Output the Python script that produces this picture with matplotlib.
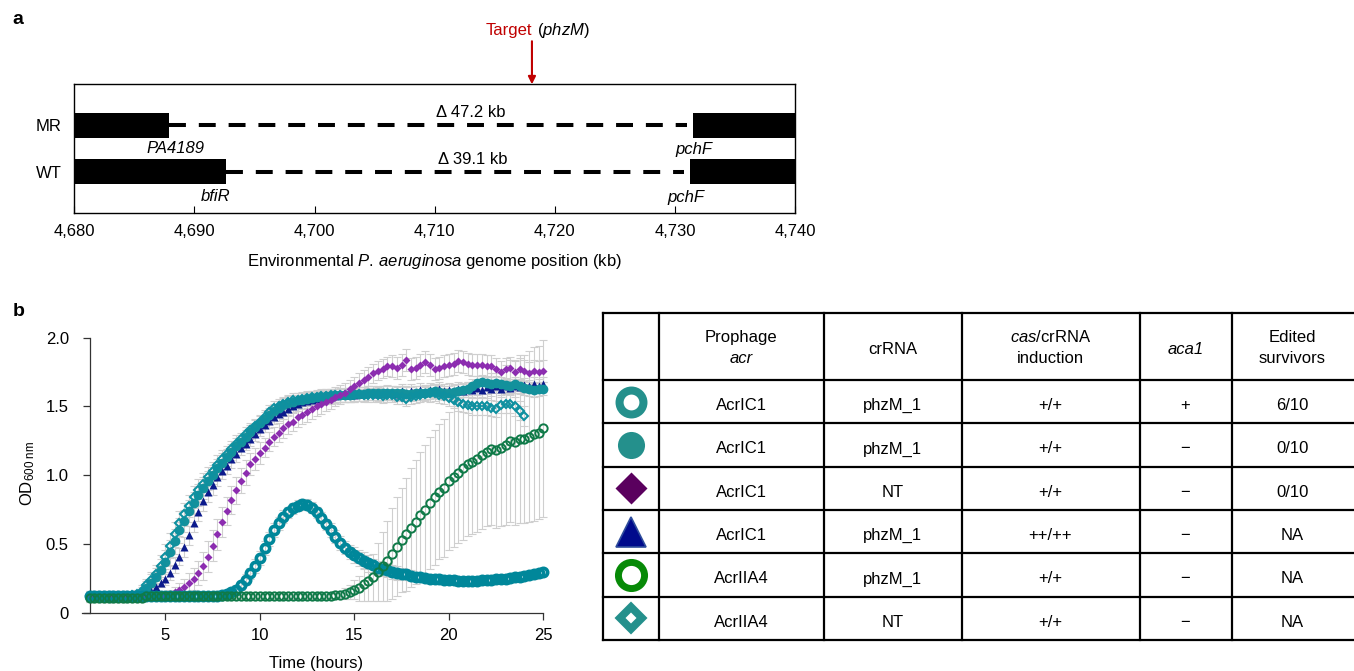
import numpy as np
import matplotlib
matplotlib.use("Agg")
import matplotlib.pyplot as plt

plt.rcParams['font.family'] = ['Liberation Sans', 'DejaVu Sans']
plt.rcParams['mathtext.fontset'] = 'custom'
plt.rcParams['mathtext.rm'] = 'Liberation Sans'
plt.rcParams['mathtext.it'] = 'Liberation Sans:italic'
plt.rcParams['mathtext.bf'] = 'Liberation Sans:bold'
plt.rcParams['font.size'] = 12

# ---------------- panel a: genome region ----------------
strains = ["MR", "WT"]
left_gene_end = [4687.9, 4692.65]       # kb
right_gene_start = [4731.5, 4731.25]    # kb
left_gene_names = ["PA4189", "bfiR"]
right_gene_names = ["pchF", "pchF"]
deletion_labels = ["Δ 47.2 kb", "Δ 39.1 kb"]
deletion_label_x = [4713.0, 4713.2]
target_kb = 4718.1
genome_ticks = [4680, 4690, 4700, 4710, 4720, 4730, 4740]

# ---------------- panel b: growth curves (OD600, 15 min reads) ----------------
time_h = np.arange(1, 25.01, 0.25)

od_ring = [0.12, 0.12, 0.12, 0.12, 0.12, 0.12, 0.12, 0.12,
           0.12, 0.12, 0.12, 0.12, 0.12, 0.12, 0.12, 0.12,
           0.12, 0.12, 0.12, 0.12, 0.12, 0.12, 0.12, 0.12,
           0.12, 0.12, 0.12, 0.12, 0.13, 0.14, 0.15, 0.17,
           0.20, 0.24, 0.29, 0.34, 0.40, 0.47, 0.54, 0.60,
           0.65, 0.70, 0.73, 0.76, 0.78, 0.79, 0.785, 0.765,
           0.73, 0.69, 0.645, 0.60, 0.555, 0.51, 0.475, 0.445,
           0.42, 0.40, 0.38, 0.36, 0.345, 0.33, 0.32, 0.31,
           0.30, 0.29, 0.285, 0.28, 0.27, 0.265, 0.26, 0.255,
           0.25, 0.25, 0.245, 0.24, 0.24, 0.24, 0.235, 0.235,
           0.235, 0.235, 0.235, 0.24, 0.24, 0.24, 0.245, 0.25,
           0.25, 0.255, 0.26, 0.265, 0.27, 0.275, 0.28, 0.29,
           0.30]
sd_ring = [0.04, 0.04, 0.04, 0.04, 0.04, 0.04, 0.04, 0.04,
           0.03, 0.03, 0.03, 0.03, 0.02, 0.02, 0.02, 0.02,
           0.02, 0.02, 0.02, 0.02, 0.02, 0.02, 0.02, 0.02,
           0.02, 0.02, 0.02, 0.02, 0.02, 0.02, 0.03, 0.03,
           0.03, 0.04, 0.04, 0.05, 0.05, 0.05, 0.05, 0.05,
           0.05, 0.05, 0.04, 0.04, 0.04, 0.04, 0.04, 0.04,
           0.04, 0.04, 0.04, 0.05, 0.05, 0.05, 0.05, 0.05,
           0.06, 0.06, 0.06, 0.06, 0.05, 0.05, 0.05, 0.05,
           0.05, 0.05, 0.04, 0.04, 0.04, 0.03, 0.03, 0.03,
           0.03, 0.03, 0.03, 0.03, 0.03, 0.03, 0.03, 0.03,
           0.03, 0.03, 0.03, 0.03, 0.03, 0.03, 0.03, 0.03,
           0.03, 0.03, 0.03, 0.03, 0.03, 0.03, 0.03, 0.03,
           0.03]

od_fill = [0.12, 0.12, 0.12, 0.12, 0.12, 0.12, 0.12, 0.12,
           0.12, 0.12, 0.13, 0.15, 0.18, 0.22, 0.26, 0.31,
           0.37, 0.44, 0.52, 0.60, 0.67, 0.74, 0.80, 0.86,
           0.91, 0.96, 1.005, 1.05, 1.09, 1.13, 1.17, 1.21,
           1.245, 1.28, 1.315, 1.35, 1.38, 1.41, 1.44, 1.47,
           1.49, 1.51, 1.525, 1.535, 1.545, 1.55, 1.555, 1.56,
           1.565, 1.57, 1.575, 1.575, 1.58, 1.58, 1.585, 1.585,
           1.59, 1.59, 1.59, 1.595, 1.595, 1.60, 1.60, 1.60,
           1.60, 1.595, 1.595, 1.59, 1.59, 1.595, 1.60, 1.60,
           1.605, 1.61, 1.605, 1.60, 1.60, 1.605, 1.61, 1.62,
           1.63, 1.65, 1.67, 1.68, 1.67, 1.665, 1.67, 1.66,
           1.655, 1.65, 1.66, 1.65, 1.635, 1.625, 1.62, 1.625,
           1.63]
sd_fill = [0.04, 0.04, 0.04, 0.04, 0.04, 0.04, 0.04, 0.04,
           0.03, 0.03, 0.03, 0.04, 0.05, 0.06, 0.07, 0.08,
           0.09, 0.09, 0.09, 0.09, 0.08, 0.08, 0.08, 0.08,
           0.08, 0.07, 0.07, 0.07, 0.07, 0.06, 0.06, 0.06,
           0.05, 0.05, 0.05, 0.05, 0.05, 0.05, 0.05, 0.05,
           0.05, 0.05, 0.05, 0.05, 0.05, 0.05, 0.05, 0.05,
           0.05, 0.05, 0.05, 0.05, 0.05, 0.05, 0.05, 0.05,
           0.05, 0.05, 0.05, 0.05, 0.05, 0.05, 0.05, 0.05,
           0.05, 0.05, 0.05, 0.05, 0.05, 0.05, 0.05, 0.05,
           0.05, 0.05, 0.05, 0.05, 0.05, 0.05, 0.05, 0.05,
           0.05, 0.05, 0.05, 0.05, 0.05, 0.05, 0.05, 0.05,
           0.05, 0.05, 0.05, 0.05, 0.05, 0.05, 0.05, 0.05,
           0.05]

od_nt = [0.12, 0.12, 0.12, 0.12, 0.12, 0.12, 0.12, 0.12,
         0.12, 0.12, 0.12, 0.12, 0.12, 0.12, 0.12, 0.12,
         0.13, 0.14, 0.15, 0.17, 0.19, 0.22, 0.25, 0.29,
         0.34, 0.41, 0.49, 0.57, 0.66, 0.74, 0.82, 0.89,
         0.96, 1.02, 1.08, 1.12, 1.16, 1.20, 1.245, 1.28,
         1.31, 1.34, 1.37, 1.39, 1.42, 1.44, 1.46, 1.48,
         1.50, 1.515, 1.535, 1.55, 1.57, 1.585, 1.60, 1.625,
         1.645, 1.67, 1.695, 1.715, 1.74, 1.76, 1.775, 1.79,
         1.79, 1.78, 1.80, 1.84, 1.77, 1.78, 1.80, 1.82,
         1.80, 1.77, 1.78, 1.79, 1.80, 1.81, 1.83, 1.82,
         1.81, 1.80, 1.80, 1.80, 1.79, 1.79, 1.77, 1.75,
         1.77, 1.78, 1.75, 1.77, 1.76, 1.74, 1.76, 1.75,
         1.76]
sd_nt = [0.03, 0.03, 0.03, 0.03, 0.03, 0.03, 0.03, 0.03,
         0.03, 0.03, 0.03, 0.03, 0.03, 0.03, 0.03, 0.03,
         0.03, 0.03, 0.04, 0.05, 0.06, 0.07, 0.08, 0.09,
         0.10, 0.11, 0.11, 0.11, 0.11, 0.10, 0.10, 0.10,
         0.09, 0.09, 0.08, 0.08, 0.08, 0.07, 0.07, 0.07,
         0.07, 0.07, 0.07, 0.07, 0.07, 0.07, 0.07, 0.07,
         0.07, 0.07, 0.07, 0.07, 0.07, 0.07, 0.07, 0.07,
         0.07, 0.07, 0.07, 0.07, 0.07, 0.07, 0.07, 0.07,
         0.08, 0.08, 0.08, 0.08, 0.08, 0.08, 0.08, 0.08,
         0.08, 0.08, 0.08, 0.08, 0.08, 0.08, 0.08, 0.08,
         0.08, 0.08, 0.08, 0.08, 0.08, 0.08, 0.08, 0.08,
         0.08, 0.08, 0.08, 0.08, 0.08, 0.08, 0.08, 0.08,
         0.08]

od_high = [0.12, 0.12, 0.12, 0.12, 0.12, 0.12, 0.12, 0.12,
           0.12, 0.12, 0.12, 0.12, 0.14, 0.16, 0.19, 0.22,
           0.25, 0.29, 0.35, 0.41, 0.48, 0.565, 0.655, 0.735,
           0.81, 0.875, 0.93, 0.985, 1.03, 1.07, 1.115, 1.155,
           1.195, 1.23, 1.265, 1.30, 1.335, 1.365, 1.395, 1.42,
           1.445, 1.46, 1.48, 1.50, 1.515, 1.53, 1.54, 1.55,
           1.555, 1.56, 1.565, 1.57, 1.575, 1.58, 1.58, 1.585,
           1.585, 1.59, 1.59, 1.595, 1.60, 1.59, 1.60, 1.605,
           1.60, 1.59, 1.61, 1.60, 1.615, 1.60, 1.62, 1.605,
           1.62, 1.61, 1.625, 1.61, 1.62, 1.61, 1.63, 1.615,
           1.63, 1.62, 1.635, 1.62, 1.64, 1.625, 1.645, 1.63,
           1.65, 1.635, 1.65, 1.64, 1.655, 1.645, 1.66, 1.65,
           1.665]
sd_high = [0.03, 0.03, 0.03, 0.03, 0.03, 0.03, 0.03, 0.03,
           0.03, 0.03, 0.03, 0.03, 0.03, 0.03, 0.03, 0.03,
           0.05, 0.05, 0.06, 0.06, 0.07, 0.07, 0.07, 0.07,
           0.07, 0.07, 0.07, 0.06, 0.06, 0.06, 0.06, 0.06,
           0.05, 0.05, 0.05, 0.05, 0.05, 0.05, 0.05, 0.05,
           0.05, 0.05, 0.05, 0.05, 0.05, 0.05, 0.05, 0.05,
           0.05, 0.05, 0.05, 0.05, 0.05, 0.05, 0.05, 0.05,
           0.05, 0.05, 0.05, 0.05, 0.05, 0.05, 0.05, 0.05,
           0.05, 0.05, 0.05, 0.05, 0.05, 0.05, 0.05, 0.05,
           0.05, 0.05, 0.05, 0.05, 0.05, 0.05, 0.05, 0.05,
           0.05, 0.05, 0.05, 0.05, 0.05, 0.05, 0.05, 0.05,
           0.05, 0.05, 0.05, 0.05, 0.05, 0.05, 0.05, 0.05,
           0.05]

od_iia4 = [0.11, 0.11, 0.11, 0.11, 0.11, 0.11, 0.11, 0.11,
           0.11, 0.11, 0.11, 0.11, 0.12, 0.12, 0.12, 0.12,
           0.12, 0.12, 0.12, 0.12, 0.12, 0.12, 0.12, 0.12,
           0.12, 0.12, 0.12, 0.12, 0.12, 0.12, 0.12, 0.12,
           0.12, 0.12, 0.12, 0.12, 0.12, 0.12, 0.12, 0.12,
           0.12, 0.12, 0.12, 0.12, 0.12, 0.12, 0.12, 0.12,
           0.12, 0.12, 0.12, 0.12, 0.13, 0.13, 0.14, 0.15,
           0.17, 0.18, 0.21, 0.23, 0.26, 0.30, 0.34, 0.38,
           0.43, 0.48, 0.53, 0.57, 0.62, 0.66, 0.71, 0.75,
           0.80, 0.84, 0.88, 0.91, 0.96, 0.99, 1.02, 1.05,
           1.08, 1.10, 1.12, 1.15, 1.17, 1.19, 1.18, 1.20,
           1.22, 1.25, 1.24, 1.26, 1.26, 1.28, 1.30, 1.31,
           1.34]
sd_iia4 = [0.02, 0.02, 0.02, 0.02, 0.02, 0.02, 0.02, 0.02,
           0.02, 0.02, 0.02, 0.02, 0.02, 0.02, 0.02, 0.02,
           0.02, 0.02, 0.02, 0.02, 0.02, 0.02, 0.02, 0.02,
           0.02, 0.02, 0.02, 0.02, 0.02, 0.02, 0.02, 0.02,
           0.02, 0.02, 0.02, 0.02, 0.02, 0.02, 0.02, 0.02,
           0.02, 0.02, 0.02, 0.02, 0.02, 0.02, 0.02, 0.02,
           0.02, 0.02, 0.02, 0.02, 0.02, 0.03, 0.04, 0.05,
           0.07, 0.09, 0.12, 0.14, 0.17, 0.21, 0.25, 0.29,
           0.33, 0.36, 0.38, 0.41, 0.43, 0.45, 0.46, 0.47,
           0.48, 0.49, 0.49, 0.50, 0.50, 0.51, 0.51, 0.52,
           0.52, 0.53, 0.53, 0.54, 0.54, 0.55, 0.56, 0.57,
           0.58, 0.59, 0.60, 0.61, 0.61, 0.62, 0.63, 0.63,
           0.64]

nan = np.nan
od_iia4_nt = [0.12, 0.12, 0.12, 0.12, 0.12, 0.12, 0.12, 0.12,
              0.12, 0.13, 0.14, 0.16, 0.20, 0.24, 0.28, 0.34,
              0.41, 0.49, 0.57, 0.65, 0.72, 0.78, 0.84, 0.89,
              0.94, 0.99, 1.03, 1.075, 1.115, 1.155, 1.19, 1.23,
              1.26, 1.30, 1.33, 1.36, 1.39, 1.425, 1.46, 1.49,
              1.505, 1.52, 1.535, 1.545, 1.55, 1.555, 1.56, 1.565,
              1.57, 1.575, 1.575, 1.58, 1.58, 1.585, 1.58, 1.585,
              1.58, 1.59, 1.58, 1.585, 1.58, 1.585, 1.575, 1.58,
              1.58, 1.57, 1.565, 1.555, 1.565, 1.575, 1.58, 1.59,
              1.595, 1.60, 1.585, 1.575, 1.56, 1.55, 1.53, 1.52,
              1.51, 1.50, 1.50, 1.50, 1.50, 1.49, 1.48, 1.51,
              1.52, 1.52, 1.50, 1.47, 1.43, nan, nan, nan,
              nan]
sd_iia4_nt = [0.04, 0.04, 0.04, 0.04, 0.04, 0.04, 0.04, 0.04,
              0.03, 0.03, 0.03, 0.04, 0.05, 0.06, 0.07, 0.08,
              0.09, 0.09, 0.09, 0.09, 0.08, 0.08, 0.08, 0.08,
              0.08, 0.07, 0.07, 0.07, 0.07, 0.06, 0.06, 0.06,
              0.05, 0.05, 0.05, 0.05, 0.05, 0.05, 0.05, 0.05,
              0.05, 0.05, 0.05, 0.05, 0.05, 0.05, 0.05, 0.05,
              0.05, 0.05, 0.05, 0.05, 0.05, 0.05, 0.05, 0.05,
              0.05, 0.05, 0.05, 0.05, 0.05, 0.05, 0.05, 0.05,
              0.05, 0.05, 0.05, 0.05, 0.05, 0.05, 0.05, 0.05,
              0.06, 0.06, 0.06, 0.06, 0.06, 0.06, 0.06, 0.06,
              0.06, 0.06, 0.06, 0.06, 0.06, 0.06, 0.06, 0.06,
              0.07, 0.07, 0.07, 0.07, 0.07, nan, nan, nan,
              nan]

# ---------------- table ----------------
acr_names = ["AcrIC1", "AcrIC1", "AcrIC1", "AcrIC1", "AcrIIA4", "AcrIIA4"]
crrna_names = ["phzM_1", "phzM_1", "NT", "phzM_1", "phzM_1", "NT"]
induction = ["+/+", "+/+", "+/+", "++/++", "+/+", "+/+"]
aca1_state = ["+", "−", "−", "−", "−", "−"]
edited = ["6/10", "0/10", "0/10", "NA", "NA", "NA"]
# each header line: (text, italic)
header_lines = [[], [("Prophage", False), ("acr", True)], [("crRNA", False)],
                [(r"$\it{cas}$/crRNA", False), ("induction", False)], [("aca1", True)],
                [("Edited", False), ("survivors", False)]]

# series styles: plot marker, table marker (same order as table rows)
series = [
    (od_ring, sd_ring, dict(marker='o', ms=6.0, mfc='none', mec='#00879a', mew=2.6),
     dict(marker='o', ms=17.2, mfc='none', mec='#24908c', mew=5.8)),
    (od_fill, sd_fill, dict(marker='o', ms=7.0, mfc='#13919c', mec='none'),
     dict(marker='o', ms=19.5, mfc='#24908c', mec='none')),
    (od_nt, sd_nt, dict(marker='D', ms=3.9, mfc='#8c2db0', mec='none'),
     dict(marker='D', ms=16.0, mfc='#5a005e', mec='none')),
    (od_high, sd_high, dict(marker='^', ms=6.0, mfc='#0c1a8c', mec='none'),
     dict(marker='^', ms=21.5, mfc='#000a8c', mec='#2f4d9c', mew=1.2)),
    (od_iia4, sd_iia4, dict(marker='o', ms=6.0, mfc='none', mec='#0f7a48', mew=1.4),
     dict(marker='o', ms=18.8, mfc='none', mec='#078a07', mew=5.0)),
    (od_iia4_nt, sd_iia4_nt, dict(marker='D', ms=4.4, mfc='none', mec='#0e90a0', mew=1.5),
     dict(marker='D', ms=11.0, mfc='none', mec='#24908c', mew=5.6)),
]
draw_order = [3, 1, 5, 2, 0, 4]

W, H = 1354, 671
fig = plt.figure(figsize=(W / 100, H / 100), dpi=100)


def px_axes(left, top, right, bottom):
    return fig.add_axes([left / W, 1 - bottom / H, (right - left) / W, (bottom - top) / H])


# ================= panel a =================
ax_a = px_axes(74.3, 84.3, 795, 213.3)
row_y = [0.684, 0.324]
bar_h = 0.194
for i, name in enumerate(strains):
    y = row_y[i]
    ax_a.barh(y, left_gene_end[i] - genome_ticks[0], left=genome_ticks[0], height=bar_h,
              color='black', edgecolor='none')
    ax_a.barh(y, genome_ticks[-1] - right_gene_start[i], left=right_gene_start[i],
              height=bar_h, color='black', edgecolor='none')
    ax_a.plot([left_gene_end[i], right_gene_start[i] - 0.5], [y, y], color='black',
              lw=2.9, dashes=(4.2, 3.2), solid_capstyle='butt', dash_capstyle='butt')
    ax_a.text(deletion_label_x[i], y + 0.095, deletion_labels[i],
              ha='center', va='center', fontsize=12)
ax_a.text(left_gene_end[0] + 0.5, row_y[0] - 0.185, left_gene_names[0], style='italic',
          ha='center', va='center', fontsize=12)
ax_a.text(left_gene_end[1] - 0.85, row_y[1] - 0.195, left_gene_names[1], style='italic',
          ha='center', va='center', fontsize=12)
ax_a.text(right_gene_start[0] + 0.1, row_y[0] - 0.19, right_gene_names[0], style='italic',
          ha='center', va='center', fontsize=12)
ax_a.text(right_gene_start[1] - 0.35, row_y[1] - 0.2, right_gene_names[1], style='italic',
          ha='center', va='center', fontsize=12)

ax_a.set_xlim(genome_ticks[0], genome_ticks[-1])
ax_a.set_ylim(0, 1)
ax_a.set_xticks(genome_ticks)
ax_a.set_xticklabels([f"{v:,}" for v in genome_ticks])
ax_a.set_yticks(row_y)
ax_a.set_yticklabels(strains)
ax_a.tick_params(axis='x', direction='in', length=5, width=0.8, pad=8, labelsize=12)
ax_a.tick_params(axis='y', length=0, pad=9, labelsize=12)
for s in ax_a.spines.values():
    s.set_linewidth(1.0)
ax_a.set_xlabel(r"Environmental $\it{P.\,aeruginosa}$ genome position (kb)", fontsize=12,
                labelpad=9)

ax_a.annotate("", xy=(target_kb, 1.0), xycoords=('data', 'axes fraction'),
              xytext=(0, 31), textcoords='offset points',
              arrowprops=dict(arrowstyle='-|>', color='#c00000', lw=1.5,
                              mutation_scale=11, shrinkA=0, shrinkB=0))
ax_a.annotate("Target", xy=(target_kb, 1.0), xycoords=('data', 'axes fraction'),
              xytext=(0, 38.5), textcoords='offset points', ha='right', va='center',
              color='#c00000', fontsize=12)
ax_a.annotate(r"($\it{phzM}$)", xy=(target_kb, 1.0), xycoords=('data', 'axes fraction'),
              xytext=(3.3, 38.5), textcoords='offset points', ha='left', va='center',
              color='black', fontsize=12)

# ================= panel b =================
ax_b = px_axes(81.5, 334.8, 550, 613)
for k in draw_order:
    od, sd, style, _ = series[k]
    ax_b.errorbar(time_h, od, yerr=sd, fmt='none', ecolor='#cfcfcf', elinewidth=0.8,
                  capsize=2.8, capthick=0.8, zorder=1)
for k in draw_order:
    od, sd, style, _ = series[k]
    ax_b.plot(time_h, od, ls='none', zorder=3, clip_on=False, **style)

ax_b.set_xlim(0.57, 25.35)
ax_b.set_ylim(0, 2.02)
ax_b.set_xticks([5, 10, 15, 20, 25])
ax_b.set_yticks([0, 0.5, 1.0, 1.5, 2.0])
ax_b.set_yticklabels(["0", "0.5", "1.0", "1.5", "2.0"])
ax_b.spines['top'].set_visible(False)
ax_b.spines['right'].set_visible(False)
ax_b.spines['left'].set_position(('data', 1.0))
ax_b.spines['left'].set_bounds(0, 2.0)
ax_b.spines['bottom'].set_bounds(0.57, 25)
for s in ['left', 'bottom']:
    ax_b.spines[s].set_linewidth(0.9)
    ax_b.spines[s].set_color('#333333')
ax_b.tick_params(axis='both', direction='out', length=5, width=0.9, labelsize=12,
                 color='#333333')
ax_b.tick_params(axis='x', pad=6)
ax_b.tick_params(axis='y', pad=10)
ax_b.set_xlabel("Time (hours)", fontsize=12, labelpad=9)
ax_b.set_ylabel(r"OD$_{\mathrm{600\ nm}}$", fontsize=12)
ax_b.yaxis.set_label_coords(-0.095, 0.5)

# ================= table =================
ax_t = px_axes(603, 313.3, 1353, 640)
col_edges = [0, 56, 220.5, 358.5, 536.5, 628.5, 750]
header_h = 66.7
row_h = 43.3
n_rows = len(acr_names)
ax_t.set_xlim(0, 750)
ax_t.set_ylim(header_h + n_rows * row_h, 0)
ax_t.axis('off')

h_lines = [0, header_h] + [header_h + (r + 1) * row_h for r in range(n_rows)]
for y in h_lines:
    ax_t.plot([col_edges[0], col_edges[-1] + 5], [y, y], color='black', lw=1.6,
              clip_on=False, solid_capstyle='projecting')
for x in col_edges[:-1]:
    ax_t.plot([x, x], [0, h_lines[-1]], color='black', lw=1.6, clip_on=False,
              solid_capstyle='projecting')

col_mid = [(col_edges[c] + col_edges[c + 1]) / 2 for c in range(len(col_edges) - 1)]
for c, lines in enumerate(header_lines):
    if len(lines) == 2:
        baselines = [28.5, 50.0]
    else:
        baselines = [40.8]
    for (line, italic), yb in zip(lines, baselines):
        ax_t.text(col_mid[c], yb, line, ha='center', va='baseline', fontsize=12,
                  style='italic' if italic else 'normal')

columns = [acr_names, crrna_names, induction, aca1_state, edited]
for r in range(n_rows):
    yc = header_h + (r + 0.5) * row_h
    ax_t.plot(col_mid[0], yc, ls='none', clip_on=False, **series[r][3])
    for c, values in enumerate(columns):
        ax_t.text(col_mid[c + 1], yc + 8.4, values[r], ha='center', va='baseline', fontsize=12)

# panel letters
fig.text(18 / W, 1 - 20 / H, "a", fontsize=14, fontweight='bold', ha='center', va='center')
fig.text(19 / W, 1 - 312 / H, "b", fontsize=14, fontweight='bold', ha='center', va='center')

fig.savefig("out.png", dpi=100)
